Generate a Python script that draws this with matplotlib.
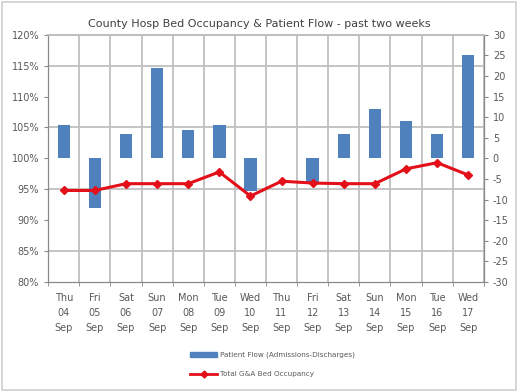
import matplotlib
matplotlib.use('Agg')
import matplotlib.pyplot as plt
import numpy as np
from matplotlib.patches import Rectangle

# Données
days = ['Thu\n04\nSep', 'Fri\n05\nSep', 'Sat\n06\nSep', 'Sun\n07\nSep', 'Mon\n08\nSep',
        'Tue\n09\nSep', 'Wed\n10\nSep', 'Thu\n11\nSep', 'Fri\n12\nSep', 'Sat\n13\nSep',
        'Sun\n14\nSep', 'Mon\n15\nSep', 'Tue\n16\nSep', 'Wed\n17\nSep']
patient_flow = [8, -12, 6, 22, 7, 8, -8, 0, -6, 6, 12, 9, 6, 25]
occupancy = [94.8, 94.8, 95.9, 95.9, 95.9, 97.8, 93.9, 96.3, 96.0, 95.9, 95.9, 98.3, 99.3, 97.3]

left_ticks = np.arange(80, 121, 5)
right_ticks = np.arange(-30, 31, 5)

text_col = '#595959'
grid_col = '#bfbfbf'
blue = '#4f81bd'
red = '#e3101a'

fig = plt.figure(figsize=(5.18, 3.92), dpi=100)
fig.patches.append(Rectangle((0.004, 0.004), 0.992, 0.99, transform=fig.transFigure,
                             fill=False, edgecolor='#d0d0d0', linewidth=1.2))

ax2 = fig.add_axes([0.093, 0.281, 0.841, 0.630])
ax = ax2.twinx()
ax.yaxis.tick_left()
ax2.yaxis.tick_right()
ax.set_zorder(ax2.get_zorder() + 1)
ax.patch.set_visible(False)

x = np.arange(len(days))

# Barres (axe de droite)
ax2.bar(x, patient_flow, width=0.4, color=blue, zorder=3)
ax2.set_ylim(-30, 30)
ax2.set_yticks(right_ticks)
ax2.set_yticklabels([str(t) for t in right_ticks])
ax2.set_yticks(np.linspace(-30, 30, len(left_ticks)), minor=True)
ax2.set_xticks(np.arange(-0.5, len(days), 1), minor=True)
ax2.grid(which='minor', color=grid_col, linewidth=1.3)
ax2.set_axisbelow(True)
ax2.set_xlim(-0.5, len(days) - 0.5)
ax2.set_xticks(x)
ax2.set_xticklabels(days, linespacing=1.65)
ax2.tick_params(axis='x', which='major', length=0, pad=8, labelsize=7, labelcolor=text_col)
ax2.tick_params(axis='x', which='minor', length=3, direction='out', color='#888888')
ax2.tick_params(axis='y', which='major', labelsize=7, labelcolor=text_col, color='#888888', length=3)
ax2.tick_params(axis='y', which='minor', length=0)

# Ligne (axe de gauche)
ax.plot(x, occupancy, color=red, marker='D', markersize=4.5, linewidth=2.2, zorder=5)
ax.set_ylim(80, 120)
ax.set_yticks(left_ticks)
ax.set_yticklabels([f'{t}%' for t in left_ticks])
ax.tick_params(axis='y', labelsize=7, labelcolor=text_col, color='#888888', length=3)

for a in (ax, ax2):
    for s in a.spines.values():
        s.set_color('#888888')
    a.spines['top'].set_color(grid_col)
    a.spines['top'].set_linewidth(1.3)

fig.text(0.5, 0.94, 'County Hosp Bed Occupancy & Patient Flow - past two weeks',
         ha='center', va='center', fontsize=8, color='#404040')

# Légende
fig.patches.append(Rectangle((0.367, 0.090), 0.052, 0.012, transform=fig.transFigure,
                             color=blue))
fig.text(0.425, 0.096, 'Patient Flow (Admissions-Discharges)', fontsize=5.2,
         color=text_col, va='center')
leg_line = plt.Line2D([0.367, 0.393, 0.419], [0.046, 0.046, 0.046], transform=fig.transFigure,
                      color=red, linewidth=2, marker='D', markersize=3.5,
                      markevery=[1], zorder=5)
fig.lines.append(leg_line)
fig.text(0.425, 0.046, 'Total G&A Bed Occupancy', fontsize=5.2,
         color=text_col, va='center')

plt.savefig('out.png', dpi=100)
